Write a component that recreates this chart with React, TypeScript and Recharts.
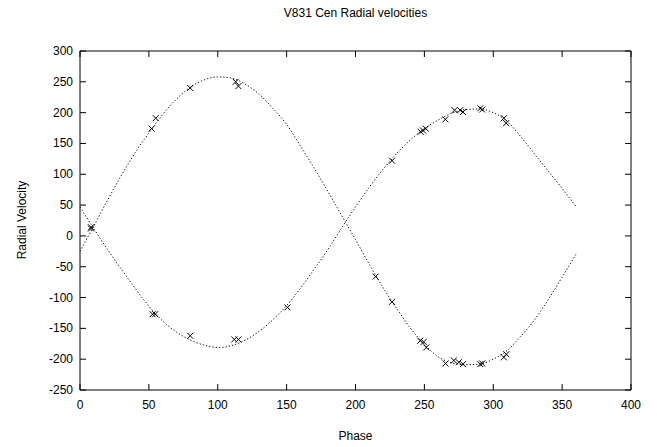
import React from "react";
import {
  ComposedChart,
  Line,
  Scatter,
  XAxis,
  YAxis,
} from "recharts";

// fitted orbit curves, every 10 degrees of phase
const curvePhase = [
  0, 10, 20, 30, 40, 50, 60, 70, 80, 90, 100, 110, 120, 130, 140, 150, 160, 170, 180,
  190, 200, 210, 220, 230, 240, 250, 260, 270, 280, 290, 300, 310, 320, 330, 340, 350, 360,
];
const curvePrimary = [
  -25, 16, 58, 98, 135, 167, 197, 222, 241, 253, 258, 256, 246, 230, 207, 181, 146, 110, 72,
  33, -6, -46, -84, -118, -150, -176, -196, -206, -209, -208, -200, -186, -163, -136, -103, -67, -30,
];
const curveSecondary = [
  47, 12, -22, -54, -85, -114, -138, -156, -169, -177, -181, -178, -169, -155, -136, -113, -85, -54, -22,
  13, 47, 79, 108, 134, 156, 174, 188, 199, 205, 206, 200, 186, 161, 133, 105, 77, 48,
];

// measured velocities
const obsPhasePrimary = [8, 52, 55, 80, 113, 115, 214.6, 226.5, 247, 249.5, 251.4, 265.4, 271.4, 275, 278, 290.6, 292, 307.7, 309.5];
const obsVelPrimary = [14, 174, 191, 240, 250, 243, -66, -107, -170, -172, -181, -207, -202, -205, -208, -208, -207, -197, -192];
const obsPhaseSecondary = [8, 52.7, 54.6, 80, 112, 115, 150.6, 226.5, 247.3, 249, 251, 265.2, 271.9, 276, 278, 290.6, 292, 307.7, 309.4];
const obsVelSecondary = [12, -127, -127, -162, -168, -168, -116, 122, 169, 171, 174, 189, 204, 204, 201, 207, 205, 191, 183];

const xTicks = [0, 50, 100, 150, 200, 250, 300, 350, 400];
const yTicks = [-250, -200, -150, -100, -50, 0, 50, 100, 150, 200, 250, 300];

const curveA = curvePhase.map((p, i) => ({ phase: p, v: curvePrimary[i] }));
const curveB = curvePhase.map((p, i) => ({ phase: p, v: curveSecondary[i] }));
const obs = [
  ...obsPhasePrimary.map((p, i) => ({ phase: p, v: obsVelPrimary[i] })),
  ...obsPhaseSecondary.map((p, i) => ({ phase: p, v: obsVelSecondary[i] })),
];

const FONT = "'Liberation Sans', Arial, sans-serif";
const GAP = 7;
const TICK = 6;

const LeftTick = (props: any) => {
  const { x, y, payload } = props;
  const ax = x + GAP;
  return (
    <g>
      <line x1={ax} x2={ax + TICK} y1={y} y2={y} stroke="#000" />
      <text x={x} y={y} dy={4} textAnchor="end" fontSize={12} fontFamily={FONT} fill="#000">
        {payload.value}
      </text>
    </g>
  );
};

const RightTick = (props: any) => {
  const { x, y } = props;
  const ax = x - GAP;
  return <line x1={ax} x2={ax - TICK} y1={y} y2={y} stroke="#000" />;
};

const BottomTick = (props: any) => {
  const { x, y, payload } = props;
  const ay = y - GAP;
  return (
    <g>
      <line x1={x} x2={x} y1={ay} y2={ay - TICK} stroke="#000" />
      <text x={x} y={y} dy={12} textAnchor="middle" fontSize={12} fontFamily={FONT} fill="#000">
        {payload.value}
      </text>
    </g>
  );
};

const TopTick = (props: any) => {
  const { x, y } = props;
  const ay = y + GAP;
  return <line x1={x} x2={x} y1={ay} y2={ay + TICK} stroke="#000" />;
};

const Cross = (props: any) => {
  const { cx, cy } = props;
  const r = 3;
  return (
    <g stroke="#000" strokeWidth={1}>
      <line x1={cx - r} y1={cy - r} x2={cx + r} y2={cy + r} />
      <line x1={cx - r} y1={cy + r} x2={cx + r} y2={cy - r} />
    </g>
  );
};

export default function App() {
  return (
    <div style={{ position: "fixed", left: 0, top: 0, width: 657, height: 447, background: "#fff", fontFamily: FONT }}>
      <ComposedChart width={657} height={447} margin={{ top: 41, right: 16, bottom: 27, left: 30 }}>
        <XAxis
          xAxisId="b"
          type="number"
          dataKey="phase"
          domain={[0, 400]}
          ticks={xTicks}
          height={30}
          tickSize={0}
          tickMargin={GAP}
          tick={<BottomTick />}
          axisLine={{ stroke: "#000" }}
          allowDataOverflow
        />
        <XAxis
          xAxisId="t"
          orientation="top"
          type="number"
          dataKey="phase"
          domain={[0, 400]}
          ticks={xTicks}
          height={10}
          tickSize={0}
          tickMargin={GAP}
          tick={<TopTick />}
          axisLine={{ stroke: "#000" }}
          allowDataOverflow
        />
        <YAxis
          yAxisId="l"
          type="number"
          dataKey="v"
          domain={[-250, 300]}
          ticks={yTicks}
          width={50}
          tickSize={0}
          tickMargin={GAP}
          tick={<LeftTick />}
          axisLine={{ stroke: "#000" }}
          allowDataOverflow
        />
        <YAxis
          yAxisId="r"
          orientation="right"
          type="number"
          dataKey="v"
          domain={[-250, 300]}
          ticks={yTicks}
          width={10}
          tickSize={0}
          tickMargin={GAP}
          tick={<RightTick />}
          axisLine={{ stroke: "#000" }}
          allowDataOverflow
        />
        <Line
          xAxisId="b"
          yAxisId="l"
          data={curveA}
          dataKey="v"
          type="monotone"
          stroke="#111"
          strokeWidth={1}
          strokeDasharray="1.3 2"
          dot={false}
          activeDot={false}
          isAnimationActive={false}
        />
        <Line
          xAxisId="t"
          yAxisId="r"
          data={curveB}
          dataKey="v"
          type="monotone"
          stroke="#111"
          strokeWidth={1}
          strokeDasharray="1.3 2"
          dot={false}
          activeDot={false}
          isAnimationActive={false}
        />
        <Scatter
          xAxisId="b"
          yAxisId="l"
          data={obs}
          dataKey="v"
          shape={<Cross />}
          isAnimationActive={false}
        />
      </ComposedChart>
      <div style={{ position: "absolute", left: 80, width: 551, top: 6, textAlign: "center", fontSize: 12 }}>
        V831 Cen Radial velocities
      </div>
      <div style={{ position: "absolute", left: 80, width: 551, top: 429, textAlign: "center", fontSize: 12 }}>
        Phase
      </div>
      <div
        style={{
          position: "absolute",
          left: 22,
          top: 220,
          transform: "translate(-50%, -50%) rotate(-90deg)",
          whiteSpace: "nowrap",
          fontSize: 12,
        }}
      >
        Radial Velocity
      </div>
    </div>
  );
}
